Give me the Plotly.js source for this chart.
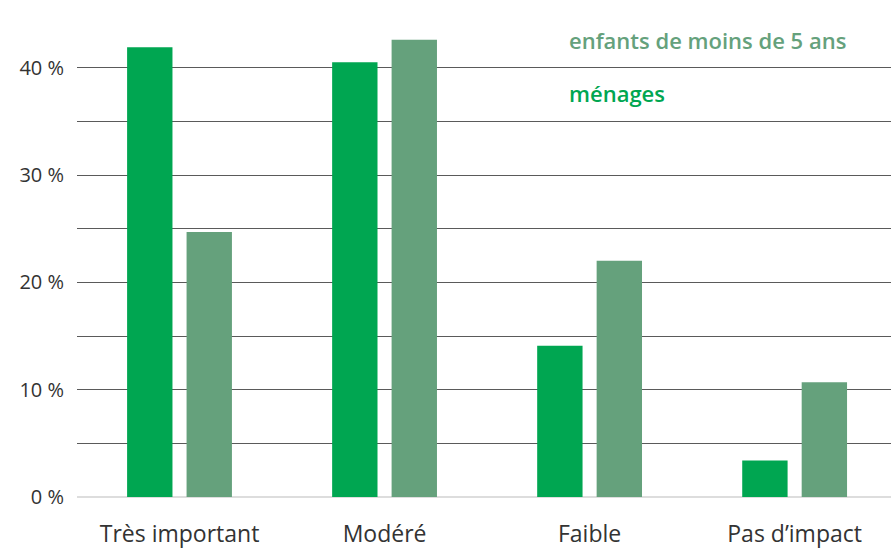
<!DOCTYPE html>
<html>
<head>
<meta charset="utf-8">
<script src="https://cdn.plot.ly/plotly-3.0.1.min.js"></script>
<style>
  html, body { margin: 0; padding: 0; background: #fff; }
  #chart { width: 891px; height: 548px; }
</style>
</head>
<body>
<div id="chart"></div>
<script>
// impact categories
const categories = ["Très important", "Modéré", "Faible", "Pas d’impact"];

// percentages
const menages = [41.9, 40.5, 14.1, 3.4];
const enfants = [24.7, 42.6, 22.0, 10.7];

const seriesNames = ["ménages", "enfants de moins de 5 ans"];
const seriesColors = ["#00a651", "#65a17c"];

const yTickVals = [0, 10, 20, 30, 40];
const yTickText = yTickVals.map(v => v + " %");

const FONT = "'Open Sans', Lato, sans-serif";

const traces = [
  {
    type: "bar",
    x: categories,
    y: menages,
    name: seriesNames[0],
    marker: { color: seriesColors[0] },
    hoverinfo: "skip"
  },
  {
    type: "bar",
    x: categories,
    y: enfants,
    name: seriesNames[1],
    marker: { color: seriesColors[1] },
    hoverinfo: "skip"
  }
];

const layout = {
  width: 891,
  height: 548,
  margin: { l: 77, r: 0, t: 14, b: 51 },
  paper_bgcolor: "#fff",
  plot_bgcolor: "#fff",
  barmode: "group",
  bargap: 0.42,
  bargroupgap: 0.237,
  showlegend: false,
  font: { family: FONT, color: "#333", size: 16 },
  xaxis: {
    type: "category",
    range: [-0.5, 3.47],
    showgrid: false,
    showline: false,
    ticks: "",
    ticklabelstandoff: 21,
    tickfont: { size: 23, color: "#333", family: FONT }
  },
  yaxis: {
    range: [0, 45],
    tickvals: yTickVals,
    ticktext: yTickText,
    showgrid: true,
    gridcolor: "#5a5a5a",
    gridwidth: 1,
    minor: { dtick: 5, tick0: 0, showgrid: true, gridcolor: "#5a5a5a", gridwidth: 1 },
    zeroline: true,
    zerolinecolor: "#dddddd",
    zerolinewidth: 2,
    showline: false,
    ticks: "",
    ticklabelstandoff: 12,
    tickfont: { size: 20, color: "#333", family: FONT }
  },
  annotations: [
    {
      xref: "paper", yref: "paper",
      x: (567 - 77) / 814, y: (497 - 40) / 483,
      xanchor: "left", yanchor: "middle",
      text: seriesNames[1],
      showarrow: false,
      font: { size: 22, weight: 600, color: seriesColors[1], family: FONT }
    },
    {
      xref: "paper", yref: "paper",
      x: (567 - 77) / 814, y: (497 - 93) / 483,
      xanchor: "left", yanchor: "middle",
      text: seriesNames[0],
      showarrow: false,
      font: { size: 22, weight: 600, color: seriesColors[0], family: FONT }
    }
  ]
};

Plotly.newPlot("chart", traces, layout, { staticPlot: true, displayModeBar: false });
</script>
</body>
</html>
